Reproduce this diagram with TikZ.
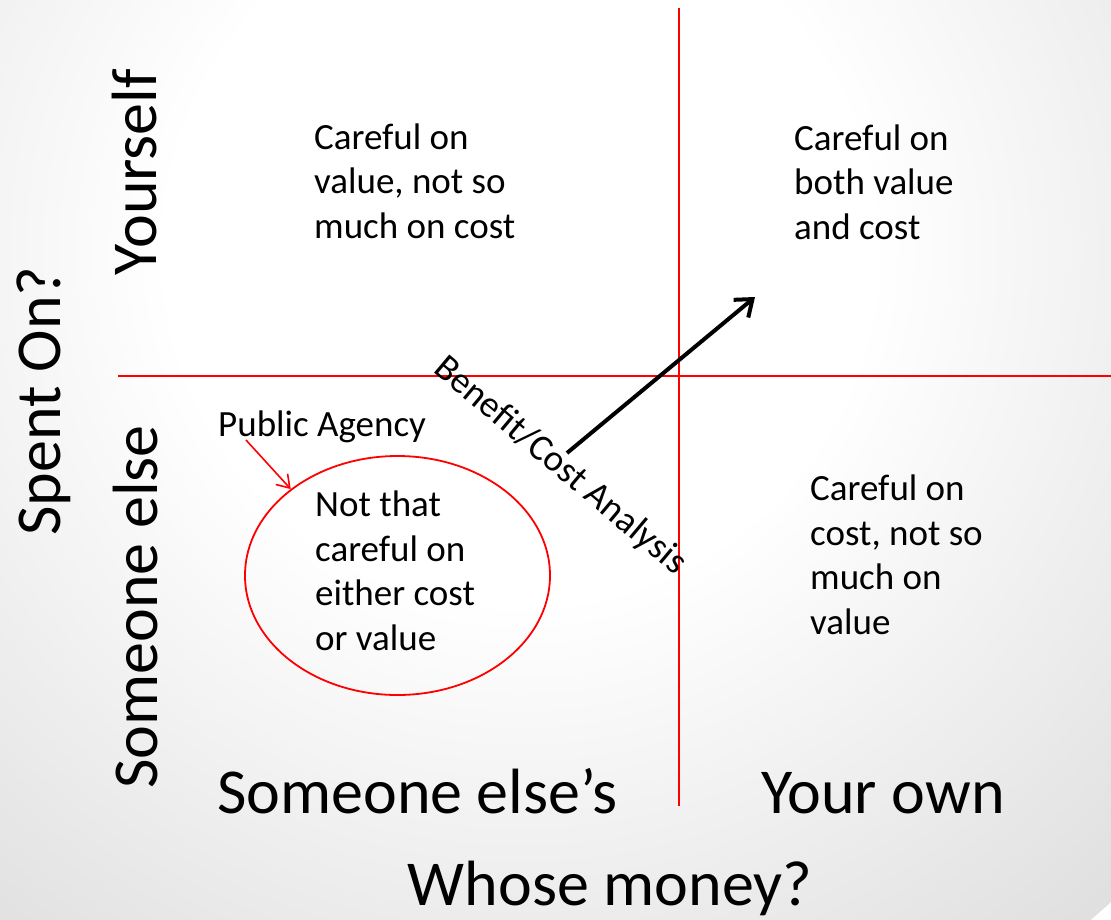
\documentclass[tikz,border=0pt]{standalone}
\usepackage{fontspec}
\setmainfont{Carlito}
\usetikzlibrary{arrows.meta,shapes.geometric}
% soft light-grey slide background, brightest near the upper middle
\pgfdeclareradialshading{slideglow}{\pgfpoint{0bp}{0bp}}{color(0bp)=(white); color(10bp)=(white); color(50bp)=(black!33)}
\begin{document}
\begin{tikzpicture}[x=1pt,y=-1pt,
  quadtext/.style={anchor=base west, align=left, inner sep=0pt, font=\fontsize{37}{44.5}\selectfont},
  axislabel/.style={inner sep=0pt, font=\fontsize{64}{72}\selectfont},
  smalllabel/.style={inner sep=0pt, font=\fontsize{37}{44}\selectfont},
  divider/.style={draw=red, line width=2.8pt},
  trend/.style={draw=black, line width=4pt, -{Straight Barb[length=15pt, width=23pt]}},
  pointer/.style={draw=red, line width=1.6pt, -{Straight Barb[length=12pt, width=16pt]}},
  ring/.style={draw=red, line width=1.8pt, shape=ellipse, inner sep=0pt}]
\useasboundingbox (0,0) rectangle (1111,919);
\begin{scope}
  \clip (0,0) rectangle (1111,919);
  \shade[shading=slideglow] (520,250) circle (880);
\end{scope}

% quadrant dividers
\coordinate (vtop) at (679,8);
\coordinate (vbot) at (679,806);
\coordinate (hleft) at (118,376);
\coordinate (hright) at (1111,376);
\draw[divider] (vtop) -- (vbot);
\draw[divider] (hleft) -- (hright);

% axis labels
\node[axislabel, rotate=90, anchor=base] (spent) at (60,401) {Spent On?};
\node[axislabel, rotate=90, anchor=base] (yourself) at (156,172) {Yourself};
\node[axislabel, rotate=90, anchor=base] (someone) at (157,607) {Someone else};
\node[axislabel, anchor=base west] (others) at (217,813) {Someone else’s};
\node[axislabel, anchor=base west] (own) at (761,813) {Your own};
\node[axislabel, anchor=base] (whose) at (610,905) {Whose money?};

% quadrant descriptions (anchored on the baseline of the last line)
\node[quadtext] (tl) at (314,238) {Careful on\\value, not so\\much on cost};
\node[quadtext] (tr) at (794,239) {Careful on\\both value\\and cost};
\node[quadtext] (br) at (810,634) {Careful on\\cost, not so\\much on\\value};
\node[quadtext] (bl) at (315,650) {Not that\\careful on\\either cost\\or value};

% public agency highlight
\node[ring, minimum width=305, minimum height=239] (agency) at (397.5,575.5) {};
\node[smalllabel, anchor=base west] (publab) at (218,436) {Public Agency};
\coordinate (pubfrom) at (246,440);
\draw[pointer] (pubfrom) -- (agency.141);

% benefit/cost direction
\node[smalllabel, rotate=-40] (bca) at (560,466) {Benefit/Cost Analysis};
\coordinate (bcfrom) at (567,453);
\coordinate (bcto) at (755,297);
\draw[trend] (bcfrom) -- (bcto);
\end{tikzpicture}
\end{document}
